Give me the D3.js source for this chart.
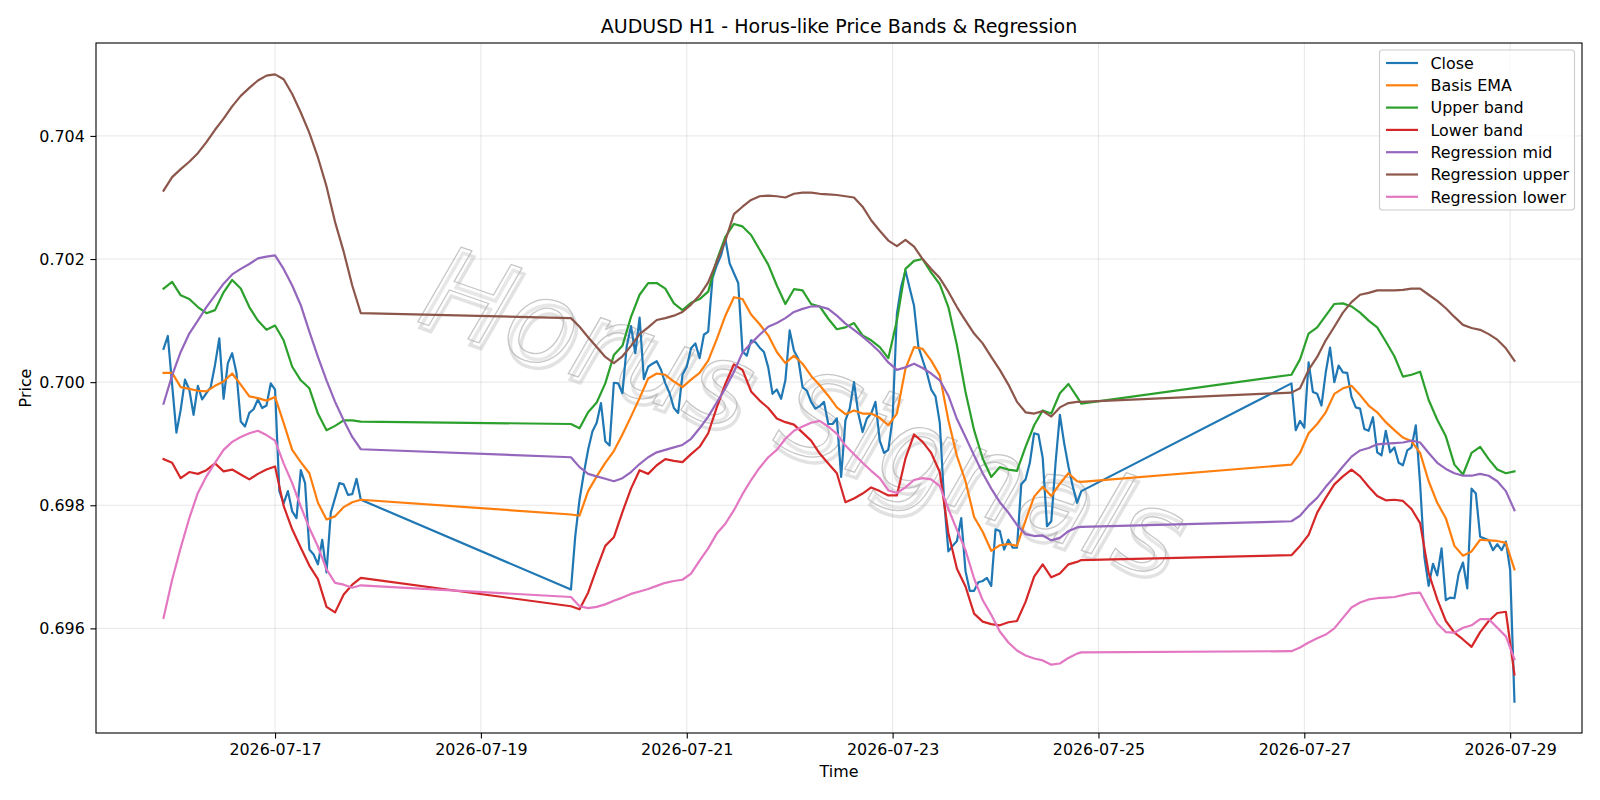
<!DOCTYPE html>
<html>
<head>
<meta charset="utf-8">
<title>AUDUSD H1 - Horus-like Price Bands &amp; Regression</title>
<script src="https://cdn.jsdelivr.net/npm/d3@7/dist/d3.min.js"></script>
<style>
  body { margin: 0; background: #fff; }
  svg text { font-family: "DejaVu Sans", sans-serif; }
</style>
</head>
<body>
<svg id="chart" width="1600" height="800"></svg>
<script>
"use strict";

// hours are counted from 2026-07-17 00:00 UTC
const sessions = [[-26, 20], [69, 188], [237, 289]];

// hourly closes, one array per trading session
const closeWed = [
  0.70054, 0.70075, 0.69996, 0.69918, 0.69955, 0.70004, 0.69988, 0.69947, 0.69994, 0.69972,
  0.69982, 0.69992, 0.70028, 0.70071, 0.69973, 0.70031, 0.70047, 0.70015, 0.69936, 0.69928,
  0.69950, 0.69956, 0.69972, 0.69958, 0.69962, 0.69998, 0.69988, 0.69823, 0.69803, 0.69823,
  0.69790, 0.69779, 0.69857, 0.69836, 0.69728, 0.69720, 0.69704, 0.69744, 0.69691, 0.69788,
  0.69812, 0.69836, 0.69834, 0.69817, 0.69818, 0.69843, 0.69809
];
const closeWeek = [
  0.69663, 0.69750, 0.69809, 0.69852, 0.69890, 0.69920, 0.69934, 0.69966, 0.69904, 0.69897,
  0.69999, 0.69998, 0.69982, 0.70058, 0.70091, 0.70047, 0.70105, 0.70005, 0.70025, 0.70030,
  0.70034, 0.70020, 0.69998, 0.69982, 0.69958, 0.69950, 0.70012, 0.70025, 0.70055, 0.70063,
  0.70039, 0.70077, 0.70082, 0.70169, 0.70190, 0.70206, 0.70233, 0.70193, 0.70177, 0.70161,
  0.70050, 0.70043, 0.70068, 0.70065, 0.70056, 0.70049, 0.70024, 0.69981, 0.69988, 0.69973,
  0.70003, 0.70084, 0.70051, 0.70038, 0.69992, 0.69986, 0.69968, 0.69957, 0.69961, 0.69968,
  0.69932, 0.69932, 0.69941, 0.69846, 0.69938, 0.69957, 0.70000, 0.69949, 0.69919, 0.69941,
  0.69949, 0.69968, 0.69905, 0.69885, 0.69890, 0.69941, 0.70111, 0.70155, 0.70181, 0.70152,
  0.70124, 0.70058, 0.70036, 0.70015, 0.69988, 0.69977, 0.69934, 0.69809, 0.69725, 0.69734,
  0.69742, 0.69779, 0.69693, 0.69661, 0.69661, 0.69675, 0.69677, 0.69682, 0.69669, 0.69761,
  0.69758, 0.69728, 0.69744, 0.69731, 0.69731, 0.69834, 0.69842, 0.69869, 0.69917, 0.69915,
  0.69877, 0.69766, 0.69774, 0.69869, 0.69947, 0.69901, 0.69863, 0.69831, 0.69804, 0.69823
];
const closeMon = [
  0.69998, 0.69922, 0.69937, 0.69926, 0.70032, 0.69984, 0.69981, 0.69962, 0.70016, 0.70056,
  0.70000, 0.70027, 0.70016, 0.70015, 0.69976, 0.69959, 0.69957, 0.69924, 0.69921, 0.69943,
  0.69886, 0.69881, 0.69921, 0.69886, 0.69894, 0.69869, 0.69865, 0.69889, 0.69894, 0.69930,
  0.69835, 0.69716, 0.69669, 0.69705, 0.69686, 0.69730, 0.69646, 0.69650, 0.69649, 0.69689,
  0.69707, 0.69665, 0.69827, 0.69819, 0.69749, 0.69746, 0.69743, 0.69727, 0.69737, 0.69727,
  0.69741, 0.69695, 0.69481
];

// indicator lines are read every two hours
const bandHours = [
  ...d3.range(-26, 21, 2),
  ...d3.range(69, 188, 2), 188,
  ...d3.range(237, 290, 2)
];

const basisEma = [
  0.70015, 0.70015, 0.69992, 0.69989, 0.69986, 0.69985, 0.69994, 0.70001, 0.70014, 0.69996, 0.69977, 0.69974,
  0.69970, 0.69976, 0.69934, 0.69890, 0.69870, 0.69852, 0.69804, 0.69777, 0.69782, 0.69797, 0.69805, 0.69809,
  0.69785, 0.69783, 0.69823, 0.69847, 0.69869, 0.69888, 0.69915, 0.69944, 0.69974, 0.70006, 0.70014,
  0.70012, 0.70001, 0.69992, 0.70004, 0.70015, 0.70035, 0.70070, 0.70108, 0.70138, 0.70135,
  0.70110, 0.70094, 0.70076, 0.70049, 0.70031, 0.70043, 0.70030, 0.70010, 0.69995, 0.69978, 0.69959, 0.69948,
  0.69954, 0.69949, 0.69949, 0.69942, 0.69930, 0.69949, 0.70022, 0.70057, 0.70054, 0.70035, 0.70011, 0.69938, 0.69880,
  0.69839, 0.69781, 0.69757, 0.69726, 0.69735, 0.69737, 0.69734, 0.69775, 0.69814, 0.69830, 0.69815, 0.69835, 0.69852, 0.69839,
  0.69838,
  0.69866, 0.69885, 0.69917, 0.69932, 0.69951, 0.69981, 0.69990, 0.69994, 0.69979, 0.69962, 0.69951, 0.69935, 0.69922, 0.69910,
  0.69904, 0.69885, 0.69839, 0.69804, 0.69779, 0.69734, 0.69718, 0.69725, 0.69744, 0.69743, 0.69742, 0.69739, 0.69696
];
const upperBand = [
  0.70152, 0.70163, 0.70141, 0.70135, 0.70122, 0.70112, 0.70117, 0.70146, 0.70166, 0.70152, 0.70122, 0.70100,
  0.70085, 0.70092, 0.70068, 0.70025, 0.70003, 0.69990, 0.69949, 0.69922, 0.69929, 0.69938, 0.69938, 0.69936,
  0.69932, 0.69925, 0.69951, 0.69967, 0.69998, 0.70044, 0.70059, 0.70106, 0.70142, 0.70161, 0.70161,
  0.70152, 0.70128, 0.70117, 0.70129, 0.70135, 0.70147, 0.70198, 0.70236, 0.70257, 0.70253,
  0.70239, 0.70215, 0.70191, 0.70157, 0.70127, 0.70151, 0.70149, 0.70127, 0.70123, 0.70103, 0.70086, 0.70089,
  0.70096, 0.70076, 0.70068, 0.70057, 0.70039, 0.70100, 0.70184, 0.70197, 0.70200, 0.70178, 0.70159, 0.70122, 0.70060,
  0.69984, 0.69922, 0.69876, 0.69846, 0.69862, 0.69858, 0.69856, 0.69895, 0.69930, 0.69954, 0.69949, 0.69982, 0.69997, 0.69976,
  0.69965,
  0.70012, 0.70037, 0.70079, 0.70089, 0.70108, 0.70127, 0.70128, 0.70123, 0.70113, 0.70100, 0.70089, 0.70066, 0.70042, 0.70009,
  0.70012, 0.70017, 0.69971, 0.69939, 0.69912, 0.69866, 0.69850, 0.69885, 0.69895, 0.69875, 0.69858, 0.69852, 0.69855
];
const lowerBand = [
  0.69875, 0.69869, 0.69844, 0.69854, 0.69851, 0.69857, 0.69868, 0.69855, 0.69858, 0.69850, 0.69842, 0.69851,
  0.69858, 0.69863, 0.69799, 0.69761, 0.69731, 0.69702, 0.69680, 0.69635, 0.69626, 0.69655, 0.69671, 0.69682,
  0.69636, 0.69631, 0.69658, 0.69697, 0.69734, 0.69748, 0.69789, 0.69827, 0.69857, 0.69851, 0.69865,
  0.69875, 0.69872, 0.69870, 0.69883, 0.69895, 0.69917, 0.69959, 0.69997, 0.70029, 0.70020,
  0.69985, 0.69970, 0.69958, 0.69941, 0.69935, 0.69931, 0.69918, 0.69905, 0.69884, 0.69868, 0.69852, 0.69805,
  0.69811, 0.69819, 0.69829, 0.69823, 0.69816, 0.69816, 0.69876, 0.69915, 0.69903, 0.69885, 0.69854, 0.69755, 0.69697,
  0.69668, 0.69624, 0.69611, 0.69607, 0.69605, 0.69610, 0.69612, 0.69643, 0.69684, 0.69704, 0.69683, 0.69689, 0.69704, 0.69708,
  0.69711,
  0.69719, 0.69734, 0.69752, 0.69788, 0.69812, 0.69834, 0.69847, 0.69858, 0.69847, 0.69830, 0.69815, 0.69808, 0.69809, 0.69807,
  0.69794, 0.69771, 0.69690, 0.69647, 0.69612, 0.69593, 0.69582, 0.69570, 0.69594, 0.69612, 0.69625, 0.69627, 0.69525
];
const regMid = [
  0.69965, 0.70011, 0.70049, 0.70079, 0.70100, 0.70122, 0.70141, 0.70160, 0.70175, 0.70184, 0.70192, 0.70201,
  0.70204, 0.70206, 0.70184, 0.70157, 0.70125, 0.70082, 0.70041, 0.70003, 0.69968, 0.69938, 0.69911, 0.69891,
  0.69878, 0.69862, 0.69851, 0.69847, 0.69843, 0.69839, 0.69844, 0.69854, 0.69867, 0.69878, 0.69886,
  0.69890, 0.69894, 0.69898, 0.69908, 0.69925, 0.69944, 0.69967, 0.69990, 0.70017, 0.70048,
  0.70063, 0.70077, 0.70090, 0.70096, 0.70104, 0.70114, 0.70119, 0.70123, 0.70123, 0.70119, 0.70108, 0.70095,
  0.70085, 0.70074, 0.70062, 0.70049, 0.70032, 0.70020, 0.70024, 0.70030, 0.70023, 0.70014, 0.70003, 0.69978, 0.69940,
  0.69911, 0.69881, 0.69852, 0.69827, 0.69805, 0.69788, 0.69768, 0.69753, 0.69750, 0.69751, 0.69743, 0.69747, 0.69758, 0.69764,
  0.69765,
  0.69774, 0.69783, 0.69799, 0.69812, 0.69830, 0.69846, 0.69863, 0.69879, 0.69889, 0.69893, 0.69899, 0.69900, 0.69901, 0.69902,
  0.69905, 0.69902, 0.69885, 0.69869, 0.69859, 0.69852, 0.69848, 0.69848, 0.69851, 0.69848, 0.69839, 0.69823, 0.69792
];
const regUpper = [
  0.70311, 0.70333, 0.70346, 0.70358, 0.70372, 0.70390, 0.70410, 0.70428, 0.70448, 0.70465, 0.70478, 0.70490,
  0.70498, 0.70500, 0.70492, 0.70468, 0.70438, 0.70405, 0.70365, 0.70318, 0.70260, 0.70212, 0.70157, 0.70112,
  0.70104, 0.70090, 0.70073, 0.70057, 0.70041, 0.70031, 0.70042, 0.70059, 0.70078, 0.70089, 0.70101,
  0.70104, 0.70108, 0.70114, 0.70126, 0.70141, 0.70162, 0.70196, 0.70230, 0.70273, 0.70285,
  0.70296, 0.70302, 0.70303, 0.70302, 0.70300, 0.70306, 0.70308, 0.70308, 0.70306, 0.70305, 0.70304, 0.70302,
  0.70300, 0.70285, 0.70263, 0.70246, 0.70230, 0.70221, 0.70231, 0.70220, 0.70200, 0.70184, 0.70169, 0.70147, 0.70122,
  0.70100, 0.70079, 0.70063, 0.70041, 0.70020, 0.69996, 0.69968, 0.69951, 0.69949, 0.69953, 0.69944, 0.69959, 0.69966, 0.69968,
  0.69968,
  0.69983, 0.69990, 0.70020, 0.70041, 0.70068, 0.70090, 0.70113, 0.70130, 0.70142, 0.70145, 0.70149, 0.70149, 0.70149, 0.70150,
  0.70152, 0.70152, 0.70142, 0.70132, 0.70120, 0.70106, 0.70093, 0.70088, 0.70085, 0.70078, 0.70069, 0.70055, 0.70035
];
const regLower = [
  0.69617, 0.69679, 0.69731, 0.69779, 0.69820, 0.69847, 0.69869, 0.69890, 0.69903, 0.69911, 0.69917, 0.69921,
  0.69914, 0.69905, 0.69868, 0.69836, 0.69798, 0.69763, 0.69733, 0.69696, 0.69674, 0.69671, 0.69666, 0.69670,
  0.69651, 0.69636, 0.69633, 0.69635, 0.69639, 0.69645, 0.69650, 0.69656, 0.69660, 0.69664, 0.69669,
  0.69674, 0.69677, 0.69679, 0.69689, 0.69710, 0.69730, 0.69754, 0.69770, 0.69792, 0.69818,
  0.69841, 0.69861, 0.69878, 0.69890, 0.69908, 0.69921, 0.69928, 0.69934, 0.69937, 0.69928, 0.69916, 0.69897,
  0.69883, 0.69869, 0.69856, 0.69844, 0.69824, 0.69820, 0.69829, 0.69841, 0.69844, 0.69842, 0.69831, 0.69794, 0.69760,
  0.69727, 0.69681, 0.69646, 0.69622, 0.69595, 0.69577, 0.69564, 0.69556, 0.69551, 0.69548, 0.69541, 0.69543, 0.69552, 0.69559,
  0.69561,
  0.69563, 0.69569, 0.69577, 0.69584, 0.69590, 0.69600, 0.69617, 0.69634, 0.69642, 0.69647, 0.69649, 0.69650, 0.69651, 0.69654,
  0.69657, 0.69658, 0.69632, 0.69608, 0.69594, 0.69593, 0.69601, 0.69605, 0.69615, 0.69615, 0.69601, 0.69587, 0.69550
];

const seriesNames = ["Close", "Basis EMA", "Upper band", "Lower band", "Regression mid", "Regression upper", "Regression lower"];
const seriesColors = ["#1f77b4", "#ff7f0e", "#2ca02c", "#d62728", "#9467bd", "#8c564b", "#e377c2"];
const priceTicks = [0.696, 0.698, 0.700, 0.702, 0.704];
const dateTicks = ["2026-07-17", "2026-07-19", "2026-07-21", "2026-07-23", "2026-07-25", "2026-07-27", "2026-07-29"];
const chartTitle = "AUDUSD H1 - Horus-like Price Bands & Regression";
const watermark = "Horus Signals";

// ---- build the series ----
const base = Date.UTC(2026, 6, 17);
const hr = h => new Date(base + h * 3600e3);

const closeParts = [closeWed, closeWeek, closeMon];
const closePts = sessions.flatMap((s, i) => closeParts[i].map((v, k) => ({ t: hr(s[0] + k), v })));

const bandPts = arr => bandHours.map((h, i) => ({ t: hr(h), v: arr[i] })).filter(d => d.v != null);
const allSeries = [closePts, bandPts(basisEma), bandPts(upperBand), bandPts(lowerBand),
                   bandPts(regMid), bandPts(regUpper), bandPts(regLower)];

// ---- layout ----
const M = { left: 96, right: 1582, top: 43, bottom: 733 };
const FS = 15.9;

const svg = d3.select("#chart");

// matplotlib-like 5% margins
const tExt = d3.extent(closePts, d => +d.t);
const tPad = (tExt[1] - tExt[0]) * 0.05;
const vExt = d3.extent(allSeries.flat(), d => d.v);
const vPad = (vExt[1] - vExt[0]) * 0.05;

const x = d3.scaleUtc()
  .domain([new Date(tExt[0] - tPad), new Date(tExt[1] + tPad)])
  .range([M.left, M.right]);
const y = d3.scaleLinear()
  .domain([vExt[0] - vPad, vExt[1] + vPad])
  .range([M.bottom, M.top]);

const parseDay = d3.utcParse("%Y-%m-%d");
const xTickVals = dateTicks.map(parseDay);

// grid
const grid = svg.append("g").attr("stroke", "#b0b0b0").attr("stroke-opacity", 0.35).attr("stroke-width", 0.9);
grid.selectAll("line.gx").data(xTickVals).enter().append("line")
  .attr("x1", d => x(d)).attr("x2", d => x(d)).attr("y1", M.top).attr("y2", M.bottom);
grid.selectAll("line.gy").data(priceTicks).enter().append("line")
  .attr("x1", M.left).attr("x2", M.right).attr("y1", d => y(d)).attr("y2", d => y(d));

// watermark (outlined text with a soft shadow)
const wm = svg.append("g").attr("transform", "translate(790,450) rotate(19)")
  .style("font-style", "italic").style("font-size", "116px").attr("text-anchor", "middle");
wm.append("text").text(watermark).attr("x", 4).attr("y", 5)
  .attr("fill", "none").attr("stroke", "#a0a0a0").attr("stroke-width", 3.5).attr("stroke-opacity", 0.3);
wm.append("text").text(watermark)
  .attr("fill", "#ffffff").attr("fill-opacity", 0.2).attr("stroke", "#b4b4b4").attr("stroke-width", 1.3).attr("stroke-opacity", 0.75);

// lines
const line = d3.line().x(d => x(d.t)).y(d => y(d.v));
svg.append("g").selectAll("path").data(allSeries).enter().append("path")
  .attr("d", line)
  .attr("fill", "none")
  .attr("stroke", (d, i) => seriesColors[i])
  .attr("stroke-width", 2.2)
  .attr("stroke-linejoin", "round")
  .attr("stroke-linecap", "square");

// axes
const xAxis = d3.axisBottom(x).tickValues(xTickVals).tickFormat(d3.utcFormat("%Y-%m-%d"))
  .tickSize(5.6).tickPadding(5.6);
const yAxis = d3.axisLeft(y).tickValues(priceTicks).tickFormat(d3.format(".3f"))
  .tickSize(5.6).tickPadding(5.6);

const gx = svg.append("g").attr("transform", `translate(0,${M.bottom})`).call(xAxis);
const gy = svg.append("g").attr("transform", `translate(${M.left},0)`).call(yAxis);
[gx, gy].forEach(g => {
  g.select(".domain").remove();
  g.selectAll(".tick line").attr("stroke", "#000").attr("stroke-width", 1.1);
  g.selectAll(".tick text").attr("fill", "#000").style("font-size", FS + "px")
    .style("font-family", '"DejaVu Sans", sans-serif');
});

// frame
svg.append("rect")
  .attr("x", M.left).attr("y", M.top)
  .attr("width", M.right - M.left).attr("height", M.bottom - M.top)
  .attr("fill", "none").attr("stroke", "#000").attr("stroke-width", 1.1);

// title + labels
svg.append("text").text(chartTitle)
  .attr("x", (M.left + M.right) / 2).attr("y", 33)
  .attr("text-anchor", "middle").style("font-size", "19px").attr("fill", "#000");
svg.append("text").text("Time")
  .attr("x", (M.left + M.right) / 2).attr("y", 777)
  .attr("text-anchor", "middle").style("font-size", FS + "px").attr("fill", "#000");
svg.append("text").text("Price")
  .attr("transform", `translate(31,${(M.top + M.bottom) / 2}) rotate(-90)`)
  .attr("text-anchor", "middle").style("font-size", FS + "px").attr("fill", "#000");

// legend
const leg = svg.append("g");
leg.append("rect")
  .attr("x", 1379.5).attr("y", 50).attr("width", 195).attr("height", 160)
  .attr("rx", 3).attr("fill", "#fff").attr("fill-opacity", 0.8)
  .attr("stroke", "#cccccc").attr("stroke-width", 1.1);
const row = leg.selectAll("g.row").data(seriesNames).enter().append("g")
  .attr("transform", (d, i) => `translate(0,${63 + i * 22.3})`);
row.append("line")
  .attr("x1", 1386).attr("x2", 1418).attr("y1", 0).attr("y2", 0)
  .attr("stroke", (d, i) => seriesColors[i]).attr("stroke-width", 2.2);
row.append("text").text(d => d)
  .attr("x", 1430.5).attr("y", 0).attr("dy", "0.36em")
  .style("font-size", FS + "px").attr("fill", "#000");
</script>
</body>
</html>
